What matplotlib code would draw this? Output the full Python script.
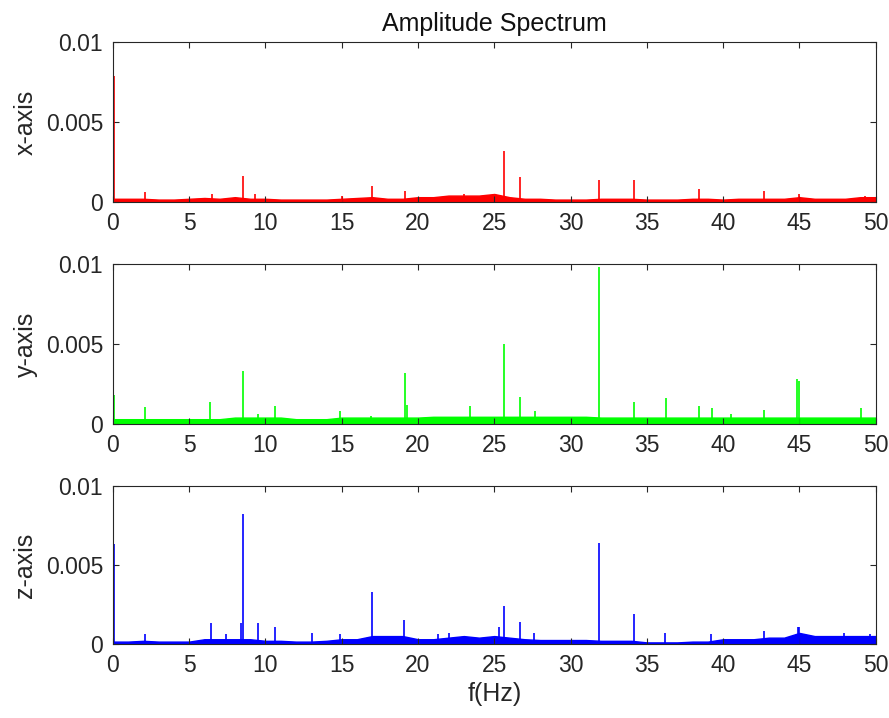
import matplotlib
matplotlib.use("Agg")
import matplotlib.pyplot as plt
import numpy as np

plt.rcParams['font.family'] = ['Liberation Sans', 'DejaVu Sans']

# ---- data ----
title = "Amplitude Spectrum"
xlabel = "f(Hz)"
ylabels = ["x-axis", "y-axis", "z-axis"]
colors = ["#ff0000", "#00ff00", "#0000ff"]
xticks = [0, 5, 10, 15, 20, 25, 30, 35, 40, 45, 50]
yticks = [0, 0.005, 0.01]
ytick_labels = ["0", "0.005", "0.01"]

# frequency grid of the noise-floor readings (Hz)
floor_f = list(range(0, 51))

# x-axis (red)
x_peak_f = [0.05, 2.1, 6.5, 8.56, 9.3, 15.0, 17.0, 19.13, 23.0, 25.64, 26.67, 31.87, 34.16, 38.45, 42.68, 44.95, 49.3]
x_peak_a = [0.0079, 0.0006, 0.0005, 0.0016, 0.0005, 0.0004, 0.0010, 0.0007, 0.0005, 0.0032, 0.00158, 0.00136, 0.00136, 0.0008, 0.0007, 0.0005, 0.0004]
x_floor = [0.0002, 0.0002, 0.0002, 0.00015, 0.00015, 0.0002, 0.00025, 0.0002, 0.0003, 0.0002,
           0.0002, 0.00015, 0.00015, 0.00015, 0.00015, 0.0002, 0.00025, 0.0003, 0.0002, 0.0002,
           0.0003, 0.0003, 0.0004, 0.0004, 0.0004, 0.0005, 0.0003, 0.0002, 0.0002, 0.00015,
           0.00015, 0.00015, 0.0002, 0.0002, 0.0002, 0.00015, 0.00015, 0.00015, 0.0002, 0.0002,
           0.00015, 0.0002, 0.0002, 0.0002, 0.0002, 0.0003, 0.0002, 0.0002, 0.0002, 0.0003, 0.0003]

# y-axis (green)
y_peak_f = [0.05, 2.1, 6.36, 8.56, 9.5, 10.6, 14.9, 16.9, 19.13, 19.25, 23.44, 25.64, 26.67, 27.7,
            31.87, 34.16, 36.26, 38.45, 39.25, 40.5, 42.68, 44.84, 44.95, 49.06]
y_peak_a = [0.0018, 0.00104, 0.00138, 0.0033, 0.0006, 0.0011, 0.0008, 0.0005, 0.0032, 0.0012, 0.0011, 0.0050, 0.0017, 0.0008,
            0.0098, 0.00135, 0.0016, 0.0011, 0.0010, 0.0006, 0.0009, 0.0028, 0.0027, 0.0010]
y_floor = [0.0003, 0.0003, 0.0003, 0.0003, 0.0003, 0.0003, 0.0003, 0.0003, 0.0004, 0.0004,
           0.0004, 0.0004, 0.0003, 0.0003, 0.0003, 0.0004, 0.0004, 0.0004, 0.0004, 0.0004,
           0.0004, 0.00045, 0.00045, 0.00045, 0.00045, 0.00045, 0.00045, 0.00045, 0.00045, 0.00045,
           0.00045, 0.00045, 0.0004, 0.0004, 0.0004, 0.0004, 0.0004, 0.0004, 0.0004, 0.0004,
           0.0004, 0.0004, 0.0004, 0.0004, 0.0004, 0.0004, 0.0004, 0.0004, 0.0004, 0.0004, 0.0004]

# z-axis (blue)
z_peak_f = [0.05, 2.1, 6.4, 7.4, 8.4, 8.56, 9.48, 10.6, 13.04, 14.9, 17.0, 19.1, 21.3, 22.0, 25.3, 25.64,
            26.67, 27.6, 31.87, 34.16, 36.2, 39.2, 42.7, 44.9, 45.0, 47.9, 49.6]
z_peak_a = [0.0063, 0.0006, 0.0013, 0.0006, 0.0013, 0.0082, 0.0013, 0.0011, 0.0007, 0.0006, 0.0033, 0.0015, 0.0006, 0.0007, 0.0011, 0.0024,
            0.0014, 0.0007, 0.0064, 0.0019, 0.0007, 0.0006, 0.0008, 0.0011, 0.0011, 0.0007, 0.0006]
z_floor = [0.00015, 0.00015, 0.0002, 0.00015, 0.00015, 0.00015, 0.0003, 0.0003, 0.0003, 0.0003,
           0.0002, 0.0002, 0.00015, 0.00015, 0.0002, 0.0003, 0.0003, 0.0005, 0.0005, 0.0005,
           0.0003, 0.0003, 0.0004, 0.0005, 0.0004, 0.0005, 0.0004, 0.0003, 0.00025, 0.00025,
           0.00025, 0.00025, 0.0002, 0.0002, 0.0002, 0.0001, 0.0001, 0.0001, 0.00015, 0.00015,
           0.0003, 0.0003, 0.0003, 0.0004, 0.0004, 0.0007, 0.0005, 0.0005, 0.0005, 0.0005, 0.0005]

peaks_f = [x_peak_f, y_peak_f, z_peak_f]
peaks_a = [x_peak_a, y_peak_a, z_peak_a]
floors = [x_floor, y_floor, z_floor]

# ---- figure ----
fig = plt.figure(figsize=(8.89, 7.18), dpi=100)
positions = [
    [0.127, 0.7187, 0.858, 0.2228],
    [0.127, 0.4095, 0.858, 0.2228],
    [0.127, 0.1031, 0.858, 0.2200],
]
tick_col = "#262626"
for i in range(3):
    ax = fig.add_axes(positions[i])
    ax.fill_between(floor_f, 0, floors[i], color=colors[i], linewidth=1.0)
    ax.vlines(peaks_f[i], 0, peaks_a[i], color=colors[i], linewidth=1.2)
    ax.set_xlim(0, 50)
    ax.set_ylim(0, 0.01)
    ax.set_xticks(xticks)
    ax.set_xticklabels([str(t) for t in xticks])
    ax.set_yticks(yticks)
    ax.set_yticklabels(ytick_labels)
    ax.tick_params(direction="in", length=4, width=0.8, top=True, right=True,
                   labelsize=16.5, colors=tick_col, pad=7)
    for sp in ax.spines.values():
        sp.set_color(tick_col)
        sp.set_linewidth(0.8)
    ax.set_ylabel(ylabels[i], fontsize=18, color=tick_col, labelpad=6)
    if i == 0:
        ax.set_title(title, fontsize=18, color="#111111", pad=8)
    if i == 2:
        ax.set_xlabel(xlabel, fontsize=18, color=tick_col, labelpad=4)

fig.savefig("out.png", dpi=100, facecolor="white")
